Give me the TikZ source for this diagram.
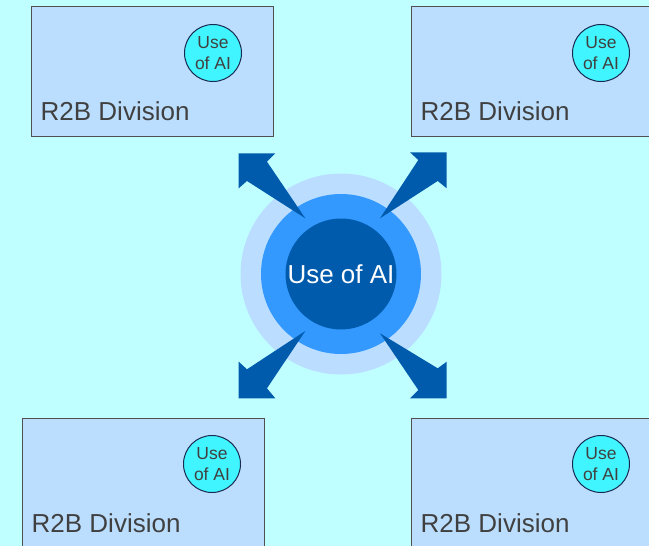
\documentclass[tikz,border=0pt]{standalone}
\usepackage{fontspec}
\setmainfont{Liberation Sans}
\definecolor{bgc}{HTML}{C0FFFF}
\definecolor{boxfill}{HTML}{BBDEFF}
\definecolor{boxline}{HTML}{505050}
\definecolor{txt}{HTML}{404040}
\definecolor{ring1}{HTML}{BBDDFF}
\definecolor{ring2}{HTML}{3399FF}
\definecolor{core}{HTML}{005BAC}
\definecolor{smallc}{HTML}{40F5FF}
\definecolor{smalll}{HTML}{1A2A50}
\tikzset{
  divbox/.style={draw=boxline, line width=1pt, fill=boxfill, anchor=north west,
    minimum width=242pt, minimum height=130pt, inner sep=0pt},
  divlabel/.style={anchor=base west, inner sep=0pt, text=txt,
    font=\fontsize{26}{30}\selectfont},
  aicircle/.style={circle, draw=smalll, line width=1pt, fill=smallc, minimum size=57pt,
    inner sep=0pt, align=center, text=txt, font=\fontsize{17.5}{21.5}\selectfont},
  arrowshape/.style={fill=core}
}
\begin{document}
\begin{tikzpicture}[x=1pt,y=-1pt]
\fill[bgc] (0,0) rectangle (649,546);
\useasboundingbox (0,0) rectangle (649,546);
% boxes
\node[divbox] (b1) at (31,6) {};
\node[divbox] (b2) at (411,6) {};
\node[divbox] (b3) at (22,418) {};
\node[divbox] (b4) at (411,418) {};
\node[divlabel] (t1) at (40.5,120) {R2B Division};
\node[divlabel] (t2) at (420.5,120) {R2B Division};
\node[divlabel] (t3) at (31.5,532.5) {R2B Division};
\node[divlabel] (t4) at (420.5,532.5) {R2B Division};
\node[aicircle] (c1) at (213,53) {Use\\of AI};
\node[aicircle] (c2) at (601,53) {Use\\of AI};
\node[aicircle] (c3) at (212,464) {Use\\of AI};
\node[aicircle] (c4) at (601,464) {Use\\of AI};
% center
\node[circle, fill=ring1, minimum size=201pt, inner sep=0pt] (r1) at (341,274) {};
\node[circle, fill=ring2, minimum size=160pt, inner sep=0pt] (r2) at (341,274) {};
\node[circle, fill=core, minimum size=111pt, inner sep=0pt, text=white,
  font=\fontsize{26}{30}\selectfont] (core) at (341,274) {Use of AI};
% arrows
\fill[arrowshape] (238.7,153.3) -- (275.3,153.3) -- (267,161.7) -- (305.3,218.3)
  -- (247,181) -- (238.7,188.3) -- cycle;
\fill[arrowshape] (446.7,152.3) -- (410,152.3) -- (418.3,160) -- (380,218.3)
  -- (437.7,181) -- (446.7,188.3) -- cycle;
\fill[arrowshape] (238.7,398.3) -- (238.7,361.7) -- (247,369.3) -- (305.3,331)
  -- (267,388.3) -- (275.3,398.3) -- cycle;
\fill[arrowshape] (446.7,398.3) -- (410,398.3) -- (418.3,390) -- (380,333.3)
  -- (437.7,368.3) -- (446.7,361.7) -- cycle;
\end{tikzpicture}
\end{document}
